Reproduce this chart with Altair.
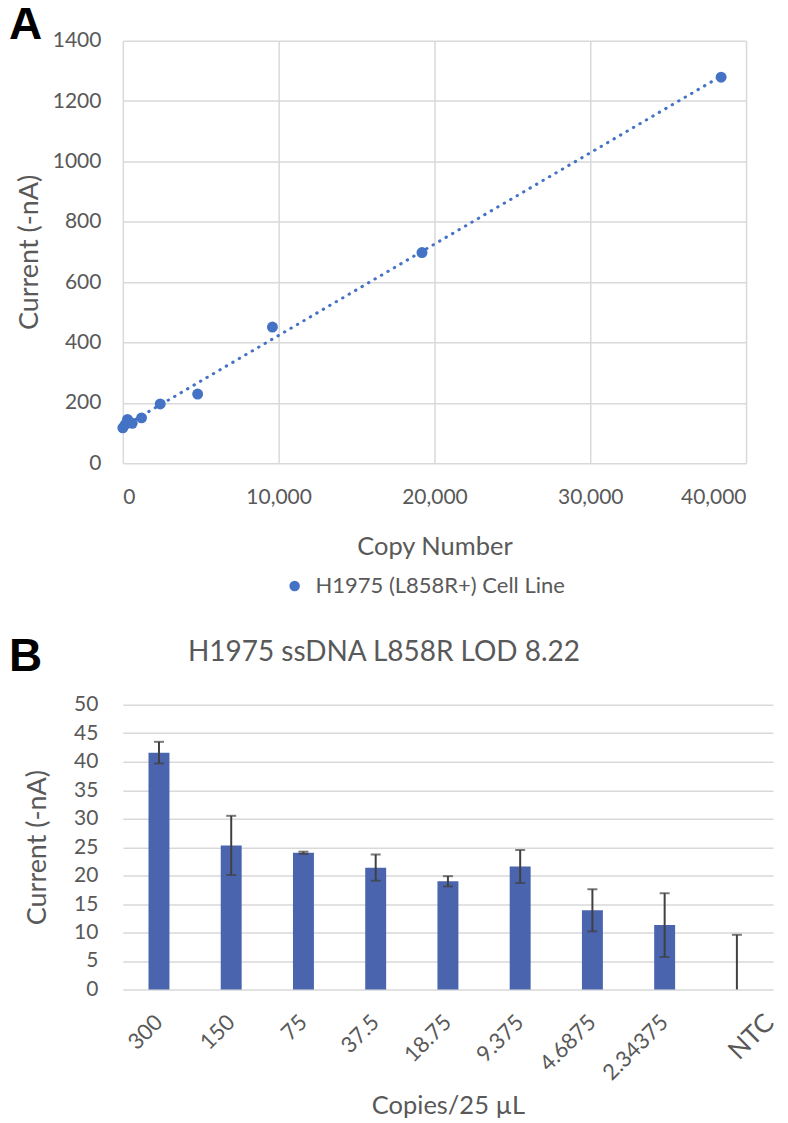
import altair as alt
import pandas as pd

# ---------- Panel A data ----------
copy_number = [0, 150, 300, 600, 1200, 2400, 4800, 9600, 19200, 38400]
current_a = [117, 128, 145, 132, 150, 196, 229, 451, 698, 1279]
series_name = "H1975 (L858R+) Cell Line"
x_ticks_a = [0, 10000, 20000, 30000, 40000]
y_ticks_a = [0, 200, 400, 600, 800, 1000, 1200, 1400]

# ---------- Panel B data ----------
categories_b = ["300", "150", "75", "37.5", "18.75", "9.375", "4.6875", "2.34375", "NTC"]
current_b = [41.6, 25.3, 24.0, 21.4, 19.0, 21.6, 13.9, 11.3, 0.0]
error_b = [1.9, 5.2, 0.2, 2.3, 0.9, 2.9, 3.7, 5.6, 9.6]
y_ticks_b = [0, 5, 10, 15, 20, 25, 30, 35, 40, 45, 50]
title_b = "H1975 ssDNA L858R LOD 8.22"
panel_labels = ["A", "B"]

FONT = "Lato"
GRAY = "#595959"
GRID = "#d9d9d9"
BLUE = "#4472c4"
BAR = "#4a65ae"
ERR = "#404040"

df_a = pd.DataFrame({"copies": copy_number, "current": current_a, "series": series_name})
df_b = pd.DataFrame({"cat": categories_b, "val": current_b, "err": error_b})

axis_common = dict(
    labelFont=FONT, labelFontSize=21, labelColor=GRAY,
    titleFont=FONT, titleColor=GRAY, titleFontWeight="normal",
    gridColor=GRID, gridWidth=1.5, domain=False, ticks=False, tickSize=0,
)

# ----- Panel A -----
xa = alt.X("copies:Q", title="Copy Number",
           scale=alt.Scale(domain=[0, 40000], nice=False),
           axis=alt.Axis(values=x_ticks_a, labelExpr="format(datum.value, ',')",
                         labelPadding=23, titlePadding=27, titleFontSize=25.5,
                         **axis_common))
ya = alt.Y("current:Q", title="Current (-nA)",
           scale=alt.Scale(domain=[0, 1400], nice=False),
           axis=alt.Axis(values=y_ticks_a, format="d", labelPadding=22, titlePadding=9,
                         titleFontSize=27, **axis_common))

points = alt.Chart(df_a).mark_circle(size=120, opacity=1).encode(
    x=xa, y=ya,
    color=alt.Color("series:N", scale=alt.Scale(range=[BLUE]),
                    legend=alt.Legend(title=None, orient="none", legendX=161, legendY=535,
                                      symbolType="circle", symbolSize=110,
                                      labelFont=FONT, labelFontSize=22, labelColor=GRAY,
                                      labelOffset=10, labelLimit=0)),
)
trend = alt.Chart(df_a).transform_regression("copies", "current", method="linear").mark_line(
    color=BLUE, strokeWidth=3, strokeDash=[0.5, 7], strokeCap="round"
).encode(x=xa, y=ya)

label_a = alt.Chart(pd.DataFrame({"t": [panel_labels[0]]})).mark_text(
    font="Liberation Sans", fontWeight="bold", fontSize=46, align="left",
    baseline="top", color="black"
).encode(text="t:N", x=alt.value(-114), y=alt.value(-38))
label_b = alt.Chart(pd.DataFrame({"t": [panel_labels[1]]})).mark_text(
    font="Liberation Sans", fontWeight="bold", fontSize=46, align="left",
    baseline="top", color="black"
).encode(text="t:N", x=alt.value(-114), y=alt.value(595))

panel_a = alt.layer(trend, points, label_a, label_b).properties(width=624, height=423)

# ----- Panel B -----
xb = alt.X("cat:N", sort=categories_b, title="Copies/25 µL",
           scale=alt.Scale(paddingInner=0.71, paddingOuter=0.355),
           axis=alt.Axis(labelAngle=-45, labelAlign="right", labelBaseline="middle",
                         labelPadding=29, titlePadding=10, grid=False, titleFontSize=25.5,
                         labelOffset=alt.condition("datum.value == 'NTC'", alt.value(33), alt.value(0)),
                         **{**axis_common,
                            "labelFontSize": alt.condition("datum.value == 'NTC'", alt.value(26), alt.value(22))}))


def yb(field):
    return alt.Y(field, type="quantitative", title="Current (-nA)",
                 scale=alt.Scale(domain=[0, 50], nice=False),
                 axis=alt.Axis(values=y_ticks_b, labelPadding=25, titlePadding=22,
                               titleFontSize=27, **axis_common))


bars = alt.Chart(df_b).mark_bar(color=BAR).encode(x=xb, y=yb("val"))

err_base = alt.Chart(df_b).transform_calculate(
    lo="max(0, datum.val - datum.err)", hi="datum.val + datum.err"
)
err_rule = err_base.mark_rule(color=ERR, strokeWidth=2).encode(
    x=xb, y=yb("lo"), y2="hi:Q")
cap_hi = err_base.mark_tick(color=ERR, thickness=2, size=10).encode(x=xb, y=yb("hi"))
cap_lo = err_base.transform_filter("datum.val - datum.err > 0").mark_tick(
    color=ERR, thickness=2, size=10).encode(x=xb, y=yb("lo"))

panel_b = alt.layer(bars, err_rule, cap_hi, cap_lo).properties(
    width=651, height=285,
    title=alt.TitleParams(title_b, font=FONT, fontSize=28, fontWeight="normal", color=GRAY,
                          anchor="middle", frame="group", offset=27, dx=-64),
)

chart = alt.vconcat(panel_a, panel_b, spacing=242, bounds="flush").properties(
    padding={"left": 0, "top": -8, "right": 0, "bottom": 0}
).configure_view(stroke="transparent")

chart.save("out.html", embed_options={"renderer": "svg", "actions": False})
